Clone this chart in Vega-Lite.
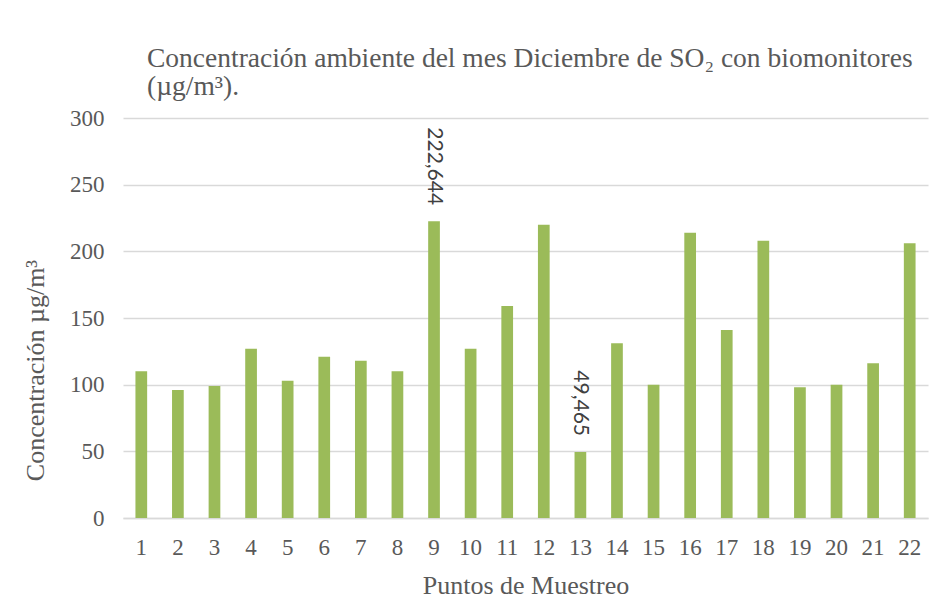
{
  "$schema": "https://vega.github.io/schema/vega-lite/v6.json",
  "width": 805,
  "height": 400,
  "autosize": {"type": "none"},
  "padding": {"left": 123, "top": 118, "right": 15, "bottom": 91},
  "background": "white",
  "config": {
    "locale": {"number": {"decimal": ",", "thousands": ".", "grouping": [3], "currency": ["", " €"]}},
    "view": {"stroke": null},
    "font": "Liberation Serif"
  },
  "title": {
    "text": ["Concentración ambiente del mes Diciembre de SO₂ con biomonitores", "(µg/m³)."],
    "anchor": "start",
    "frame": "group",
    "dx": 24,
    "font": "Liberation Serif",
    "fontSize": 27.5,
    "fontWeight": "normal",
    "color": "#595959",
    "lineHeight": 28,
    "baseline": "bottom",
    "offset": -21
  },
  "data": {
    "values": [
      {"p": 1, "v": 110},
      {"p": 2, "v": 96},
      {"p": 3, "v": 99},
      {"p": 4, "v": 127},
      {"p": 5, "v": 103},
      {"p": 6, "v": 121},
      {"p": 7, "v": 118},
      {"p": 8, "v": 110},
      {"p": 9, "v": 222.644},
      {"p": 10, "v": 127},
      {"p": 11, "v": 159},
      {"p": 12, "v": 220},
      {"p": 13, "v": 49.465},
      {"p": 14, "v": 131},
      {"p": 15, "v": 100},
      {"p": 16, "v": 214},
      {"p": 17, "v": 141},
      {"p": 18, "v": 208},
      {"p": 19, "v": 98},
      {"p": 20, "v": 100},
      {"p": 21, "v": 116},
      {"p": 22, "v": 206}
    ]
  },
  "encoding": {
    "x": {
      "field": "p",
      "type": "ordinal",
      "scale": {"paddingInner": 0.68, "paddingOuter": 0.34},
      "axis": {
        "title": "Puntos de Muestreo",
        "labelAngle": 0,
        "labelFont": "Liberation Serif",
        "labelFontSize": 23,
        "labelColor": "#595959",
        "labelPadding": 18,
        "ticks": false,
        "tickSize": 0,
        "domainColor": "#D9D9D9",
        "domainWidth": 1.5,
        "titleFont": "Liberation Serif",
        "titleFontSize": 26,
        "titleFontWeight": "normal",
        "titleColor": "#595959",
        "titleBaseline": "alphabetic",
        "titleY": 75
      }
    },
    "y": {
      "field": "v",
      "type": "quantitative",
      "scale": {"domain": [0, 300]},
      "axis": {
        "title": "Concentración µg/m³",
        "values": [0, 50, 100, 150, 200, 250, 300],
        "domain": false,
        "ticks": false,
        "tickSize": 0,
        "labelPadding": 19,
        "labelFont": "Liberation Serif",
        "labelFontSize": 23,
        "labelColor": "#595959",
        "gridColor": "#D9D9D9",
        "gridWidth": 1.5,
        "titleFont": "Liberation Serif",
        "titleFontSize": 26,
        "titleFontWeight": "normal",
        "titleColor": "#595959",
        "titleBaseline": "middle",
        "titleAlign": "center",
        "titleX": -88,
        "titleY": 252
      }
    }
  },
  "layer": [
    {"mark": {"type": "bar", "color": "#9BBB59"}},
    {
      "transform": [{"filter": "datum.p == 9 || datum.p == 13"}],
      "mark": {
        "type": "text",
        "angle": 90,
        "align": "right",
        "baseline": "middle",
        "dx": -16,
        "font": "Lato",
        "fontSize": 21,
        "color": "#404040"
      },
      "encoding": {
        "text": {"field": "v", "type": "quantitative", "format": ".3f"}
      }
    }
  ]
}
